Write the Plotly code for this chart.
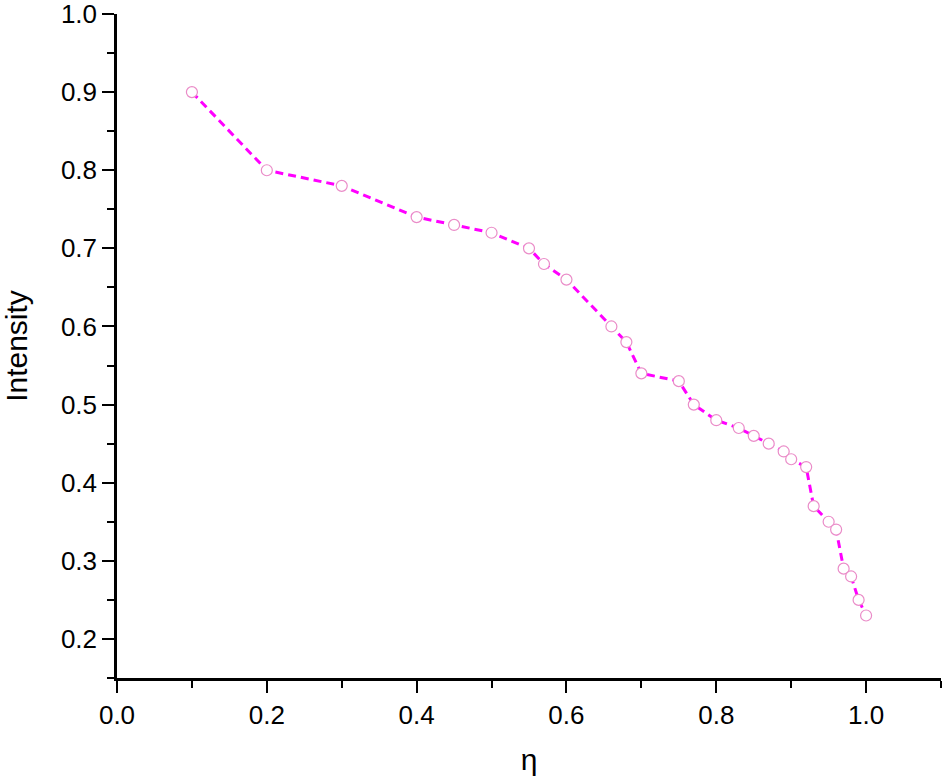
import plotly.graph_objects as go

# values
eta = [0.1, 0.2, 0.3, 0.4, 0.45, 0.5, 0.55, 0.57, 0.6, 0.66, 0.68, 0.7, 0.75, 0.77,
       0.8, 0.83, 0.85, 0.87, 0.89, 0.9, 0.92, 0.93, 0.95, 0.96, 0.97, 0.98, 0.99, 1.0]
intensity = [0.9, 0.8, 0.78, 0.74, 0.73, 0.72, 0.70, 0.68, 0.66, 0.60, 0.58, 0.54, 0.53, 0.50,
             0.48, 0.47, 0.46, 0.45, 0.44, 0.43, 0.42, 0.37, 0.35, 0.34, 0.29, 0.28, 0.25, 0.23]

x_ticks = [0.0, 0.2, 0.4, 0.6, 0.8, 1.0]
y_ticks = [0.2, 0.3, 0.4, 0.5, 0.6, 0.7, 0.8, 0.9, 1.0]

FONT = 'Liberation Sans, Arial'

fig = go.Figure()
fig.add_trace(go.Scatter(
    x=eta, y=intensity,
    mode='lines+markers',
    line={'color': '#ff00ff', 'width': 3, 'dash': '8px,5px'},
    marker={'symbol': 'circle', 'size': 11, 'color': 'white',
            'line': {'color': '#ea8cc8', 'width': 1.2}},
    showlegend=False,
))

axis_common = dict(
    showline=True, linecolor='black', linewidth=2.5,
    ticks='outside', ticklen=12, tickwidth=2, tickcolor='black',
    showgrid=False, zeroline=False, mirror=False, automargin=False,
    ticklabeloverflow='allow',
    tickfont=dict(family=FONT, size=26, color='black'),
)

fig.update_xaxes(
    range=[0, 1.1], tickvals=x_ticks, ticktext=[f'{v:.1f}' for v in x_ticks],
    minor=dict(dtick=0.1, tick0=0, ticks='outside', ticklen=7, tickwidth=2, tickcolor='black'),
    title=dict(text='η', font=dict(family=FONT, size=30, color='black'), standoff=22),
    **axis_common)
fig.update_yaxes(
    range=[0.15, 1.0], tickvals=y_ticks, ticktext=[f'{v:.1f}' for v in y_ticks],
    minor=dict(dtick=0.05, tick0=0, ticks='outside', ticklen=7, tickwidth=2, tickcolor='black'),
    title=dict(text='Intensity', font=dict(family=FONT, size=30, color='black'), standoff=26),
    **axis_common)

fig.update_layout(
    width=945, height=776,
    margin=dict(l=117, r=4, t=14, b=98),
    plot_bgcolor='white', paper_bgcolor='white',
)

fig.write_html("out.html", config={'displayModeBar': False},
               post_script="document.body.style.margin='0';")
